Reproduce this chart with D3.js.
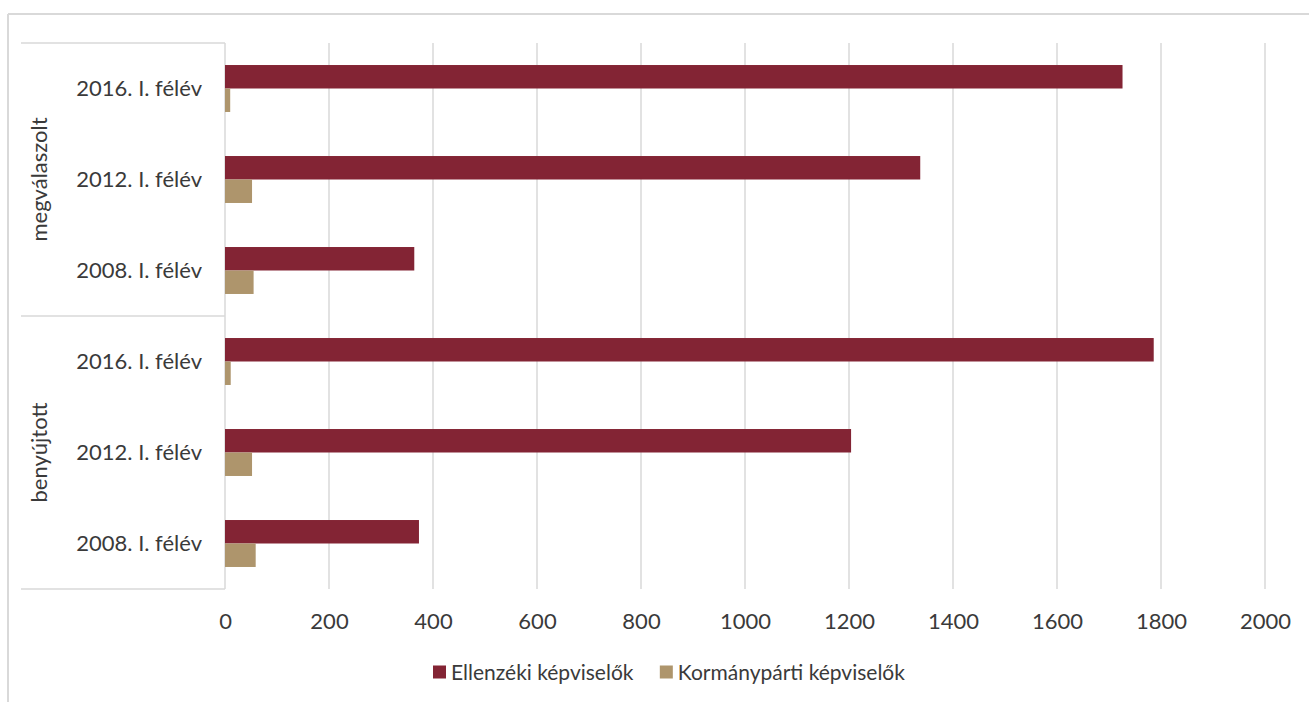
<!DOCTYPE html>
<html>
<head>
<meta charset="utf-8">
<script src="https://cdn.jsdelivr.net/npm/d3@7"></script>
<style>
  html, body { margin: 0; padding: 0; background: #fff; }
  svg { display: block; }
  text { font-family: Lato, "Open Sans", sans-serif; fill: #3a3a3a; }
</style>
</head>
<body>
<svg id="chart" width="1309" height="702"></svg>
<script>
// ---- data ----
const groups = ["megválaszolt", "benyújtott"];
const periods = ["2016. I. félév", "2012. I. félév", "2008. I. félév"];
const seriesNames = ["Ellenzéki képviselők", "Kormánypárti képviselők"];
// order: megválaszolt 2016, 2012, 2008, benyújtott 2016, 2012, 2008
const ellenzeki = [1726, 1337, 364, 1786, 1204, 373];
const kormanyparti = [10, 52, 55, 11, 52, 59];
const xTicks = [0, 200, 400, 600, 800, 1000, 1200, 1400, 1600, 1800, 2000];
const colors = ["#832434", "#AE956C"];

(function () {
  const rows = [];
  groups.forEach((g, gi) => {
    periods.forEach((p, pi) => {
      const i = gi * periods.length + pi;
      rows.push({ key: g + "|" + p, group: g, period: p, values: [ellenzeki[i], kormanyparti[i]] });
    });
  });

  const svg = d3.select("#chart");
  const W = 1309, H = 702;
  const pLeft = 225, pRight = 1265, pTop = 43, pBottom = 589;
  const fontSize = 22;
  const legendFont = 21;

  // outer chart border (top & left visible)
  svg.append("line").attr("x1", 8).attr("x2", W).attr("y1", 14).attr("y2", 14)
    .attr("stroke", "#d9d9d9").attr("stroke-width", 2);
  svg.append("line").attr("x1", 8).attr("x2", 8).attr("y1", 14).attr("y2", H)
    .attr("stroke", "#d9d9d9").attr("stroke-width", 2);

  const x = d3.scaleLinear().domain([0, 2000]).range([pLeft, pRight]);
  const y = d3.scaleBand().domain(rows.map(r => r.key)).range([pTop, pBottom])
    .paddingInner(0.484).paddingOuter(0.242);
  const ySub = d3.scaleBand().domain([0, 1]).range([0, y.bandwidth()]).padding(0);

  // gridlines
  svg.append("g").selectAll("line").data(xTicks).join("line")
    .attr("x1", d => x(d)).attr("x2", d => x(d))
    .attr("y1", pTop).attr("y2", pBottom)
    .attr("stroke", "#d9d9d9").attr("stroke-width", 1.5);

  // category box lines
  const gBoxes = [pTop, (pTop + pBottom) / 2, pBottom];
  svg.append("g").selectAll("line").data(gBoxes).join("line")
    .attr("x1", 21).attr("x2", pLeft).attr("y1", d => d).attr("y2", d => d)
    .attr("stroke", "#d9d9d9").attr("stroke-width", 1.5);

  // bars
  const rowG = svg.append("g").selectAll("g").data(rows).join("g")
    .attr("transform", d => `translate(0,${y(d.key)})`);
  rowG.selectAll("rect").data(d => d.values.map((v, i) => ({ v, i }))).join("rect")
    .attr("x", x(0))
    .attr("y", d => ySub(d.i))
    .attr("width", d => x(d.v) - x(0))
    .attr("height", ySub.bandwidth())
    .attr("fill", d => colors[d.i]);

  // x axis tick labels
  const xAxis = d3.axisBottom(x).tickValues(xTicks).tickSize(0).tickPadding(0).tickFormat(d3.format("d"));
  const ax = svg.append("g").attr("transform", `translate(0,${pBottom})`).call(xAxis);
  ax.select(".domain").remove();
  ax.selectAll("text").attr("font-size", fontSize).attr("font-family", "Lato, sans-serif")
    .attr("fill", "#3a3a3a").attr("y", 40).attr("dy", 0);

  // y category labels
  const yAxis = d3.axisLeft(y).tickSize(0).tickPadding(23).tickFormat(k => k.split("|")[1]);
  const ay = svg.append("g").attr("transform", `translate(${pLeft},0)`).call(yAxis);
  ay.select(".domain").remove();
  ay.selectAll("text").attr("font-size", fontSize).attr("font-family", "Lato, sans-serif")
    .attr("fill", "#3a3a3a").attr("dy", "0.36em");

  // group labels (rotated)
  groups.forEach((g) => {
    const keys = rows.filter(r => r.group === g).map(r => r.key);
    const y0 = y(keys[0]) - y.step() * y.paddingInner() / 2;
    const y1 = y(keys[keys.length - 1]) + y.bandwidth() + y.step() * y.paddingInner() / 2;
    const cy = (y0 + y1) / 2;
    svg.append("text")
      .attr("transform", `translate(47,${cy}) rotate(-90)`)
      .attr("text-anchor", "middle")
      .attr("font-size", fontSize)
      .text(g);
  });

  // legend
  const legend = svg.append("g");
  const items = legend.selectAll("g").data(seriesNames).join("g");
  items.append("rect").attr("width", 13).attr("height", 13).attr("y", -6.5)
    .attr("fill", (d, i) => colors[i]);
  items.append("text").attr("x", 18).attr("dy", "0.36em").attr("font-size", legendFont).text(d => d);
  let cx = 0;
  items.each(function () {
    const w = this.getBBox().width;
    d3.select(this).attr("transform", `translate(${cx},0)`);
    cx += w + 26;
  });
  legend.attr("transform", `translate(433,672)`);
})();
</script>
</body>
</html>
